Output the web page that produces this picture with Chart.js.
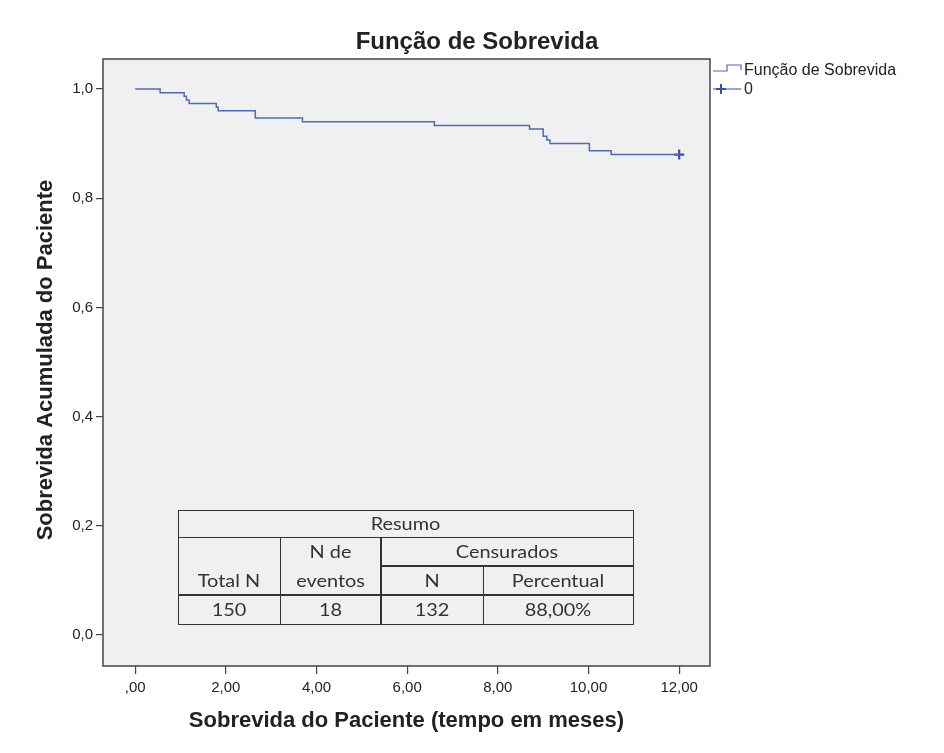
<!DOCTYPE html>
<html>
<head>
<meta charset="utf-8">
<script src="https://cdn.jsdelivr.net/npm/chart.js@4/dist/chart.umd.min.js"></script>
<style>
  html, body { margin: 0; padding: 0; background: #fff; }
</style>
</head>
<body>
<canvas id="survivalChart" width="944" height="753"></canvas>
<script>
// Kaplan-Meier steps (time in months, cumulative survival after each event)
const eventTimes = [0, 0.55, 1.08, 1.13, 1.19, 1.79, 1.83, 2.65, 3.69, 6.6, 8.7, 9.0, 9.08, 9.15, 10.02, 10.5, 12];
const survival = [1, 0.9933, 0.9867, 0.98, 0.9733, 0.9667, 0.96, 0.9467, 0.94, 0.9333, 0.9267, 0.9133, 0.9067, 0.9, 0.8867, 0.88, 0.88];
const censorTimes = [12];
const censorSurvival = [0.88];

const xTicks = [0, 2, 4, 6, 8, 10, 12];
const xTickLabels = [",00", "2,00", "4,00", "6,00", "8,00", "10,00", "12,00"];
const yTicks = [0, 0.2, 0.4, 0.6, 0.8, 1.0];
const yTickLabels = ["0,0", "0,2", "0,4", "0,6", "0,8", "1,0"];

// Resumo table
const summaryValues = ["150", "18", "132", "88,00%"];

const lineColor = "#5068bb";
const markColor = "#3b51a8";
const plotBg = "#f0f0f0";
const axisColor = "#444";
const textColor = "#222";
const sans = "'Liberation Sans', Arial, sans-serif";

// text drawn with a horizontal stretch factor
function stretchText(ctx, text, x, y, sx) {
  ctx.save();
  ctx.translate(x, y);
  ctx.scale(sx, 1);
  ctx.fillText(text, 0, 0);
  ctx.restore();
}

// Background, frame, table, titles and legend
const decorations = {
  id: "decorations",
  beforeDraw(chart) {
    const { ctx, chartArea: a } = chart;
    ctx.save();
    ctx.fillStyle = "#fff";
    ctx.fillRect(0, 0, chart.width, chart.height);
    ctx.fillStyle = plotBg;
    ctx.fillRect(a.left, a.top, a.right - a.left, a.bottom - a.top);
    ctx.restore();
  },
  afterDatasetsDraw(chart) {
    const { ctx, chartArea: a } = chart;
    drawTable(ctx);
    ctx.save();
    ctx.strokeStyle = axisColor;
    ctx.lineWidth = 1.5;
    ctx.strokeRect(a.left, a.top, a.right - a.left, a.bottom - a.top);
    ctx.restore();
  },
  afterDraw(chart) {
    const { ctx, chartArea: a } = chart;
    ctx.save();
    ctx.fillStyle = textColor;
    ctx.textAlign = "center";
    ctx.textBaseline = "middle";

    ctx.font = "bold 24px " + sans;
    ctx.fillText("Função de Sobrevida", 477, 42);

    ctx.font = "bold 22px " + sans;
    ctx.fillText("Sobrevida do Paciente (tempo em meses)", (a.left + a.right) / 2, 721);

    ctx.save();
    ctx.translate(46, 360);
    ctx.rotate(-Math.PI / 2);
    ctx.fillText("Sobrevida Acumulada do Paciente", 0, 0);
    ctx.restore();

    // legend
    ctx.strokeStyle = lineColor;
    ctx.lineWidth = 1.2;
    ctx.beginPath();
    ctx.moveTo(713, 71);
    ctx.lineTo(727, 71);
    ctx.lineTo(727, 65);
    ctx.lineTo(741, 65);
    ctx.lineTo(741, 70);
    ctx.stroke();
    ctx.beginPath();
    ctx.moveTo(713, 89);
    ctx.lineTo(741, 89);
    ctx.stroke();
    ctx.strokeStyle = markColor;
    ctx.lineWidth = 2;
    ctx.beginPath();
    ctx.moveTo(721, 84);
    ctx.lineTo(721, 94);
    ctx.moveTo(716, 89);
    ctx.lineTo(726, 89);
    ctx.stroke();

    ctx.font = "16px " + sans;
    ctx.textAlign = "left";
    ctx.fillText("Função de Sobrevida", 744, 71);
    ctx.fillText("0", 744, 90);
    ctx.restore();
  }
};

function drawTable(ctx) {
  const cols = [178, 280, 381, 483, 633];
  const rows = [510, 537, 566, 595, 624];
  ctx.save();
  ctx.fillStyle = plotBg;
  ctx.fillRect(cols[0], rows[0], cols[4] - cols[0], rows[4] - rows[0]);
  ctx.strokeStyle = "#333";

  function line(x1, y1, x2, y2, w) {
    ctx.lineWidth = w;
    ctx.beginPath();
    ctx.moveTo(x1, y1);
    ctx.lineTo(x2, y2);
    ctx.stroke();
  }
  ctx.lineWidth = 1;
  ctx.strokeRect(cols[0] + 0.5, rows[0] + 0.5, cols[4] - cols[0], rows[4] - rows[0]);
  line(cols[0], rows[1] + 0.5, cols[4], rows[1] + 0.5, 1);
  line(cols[2], rows[2], cols[4], rows[2], 2);
  line(cols[0], rows[3], cols[4], rows[3], 2);
  line(cols[1] + 0.5, rows[1], cols[1] + 0.5, rows[4], 1);
  line(cols[2], rows[1], cols[2], rows[4], 2);
  line(cols[3] + 0.5, rows[2], cols[3] + 0.5, rows[4], 1);

  ctx.fillStyle = "#333";
  ctx.font = "17px Lato, 'Open Sans', sans-serif";
  ctx.textAlign = "center";
  ctx.textBaseline = "middle";
  const cx = (i, j) => (cols[i] + cols[j]) / 2;
  const cy = r => (rows[r] + rows[r + 1]) / 2 + 1;
  const sx = 1.17;
  stretchText(ctx, "Resumo", cx(0, 4), cy(0), sx);
  stretchText(ctx, "N de", cx(1, 2), cy(1), sx);
  stretchText(ctx, "Censurados", cx(2, 4), cy(1), sx);
  stretchText(ctx, "Total N", cx(0, 1), cy(2), sx);
  stretchText(ctx, "eventos", cx(1, 2), cy(2), sx);
  stretchText(ctx, "N", cx(2, 3), cy(2), sx);
  stretchText(ctx, "Percentual", cx(3, 4), cy(2), sx);
  summaryValues.forEach((v, i) => stretchText(ctx, v, cx(i, i + 1), cy(3), sx));
  ctx.restore();
}

const ctx = document.getElementById("survivalChart");
new Chart(ctx, {
  type: "line",
  data: {
    datasets: [
      {
        label: "Função de Sobrevida",
        data: eventTimes.map((t, i) => ({ x: t, y: survival[i] })),
        stepped: true,
        borderColor: lineColor,
        borderWidth: 1.5,
        pointRadius: 0,
        fill: false,
      },
      {
        label: "0",
        data: censorTimes.map((t, i) => ({ x: t, y: censorSurvival[i] })),
        showLine: false,
        pointStyle: "cross",
        pointRadius: 5,
        borderWidth: 2.2,
        borderColor: markColor,
      },
    ],
  },
  options: {
    responsive: false,
    animation: false,
    devicePixelRatio: 1,
    layout: { padding: { top: 59, right: 234, left: 0, bottom: 0 } },
    plugins: {
      legend: { display: false },
      tooltip: { enabled: false },
    },
    scales: {
      x: {
        type: "linear",
        min: -0.71,
        max: 12.68,
        afterBuildTicks: (s) => { s.ticks = xTicks.map((v) => ({ value: v })); },
        afterFit: (s) => { s.height = 87; },
        border: { display: false },
        grid: { drawOnChartArea: false, drawTicks: true, tickLength: 8, color: axisColor, lineWidth: 1.2 },
        ticks: {
          autoSkip: false,
          maxRotation: 0,
          padding: 5,
          color: textColor,
          font: { family: sans, size: 15 },
          callback: (v, i) => xTickLabels[i],
        },
      },
      y: {
        min: -0.057,
        max: 1.055,
        afterBuildTicks: (s) => { s.ticks = yTicks.map((v) => ({ value: v })); },
        afterFit: (s) => { s.width = 103; },
        border: { display: false },
        grid: { drawOnChartArea: false, drawTicks: true, tickLength: 7, color: axisColor, lineWidth: 1.2 },
        ticks: {
          padding: 3,
          color: textColor,
          font: { family: sans, size: 15 },
          callback: (v, i) => yTickLabels[i],
        },
      },
    },
  },
  plugins: [decorations],
});
</script>
</body>
</html>
